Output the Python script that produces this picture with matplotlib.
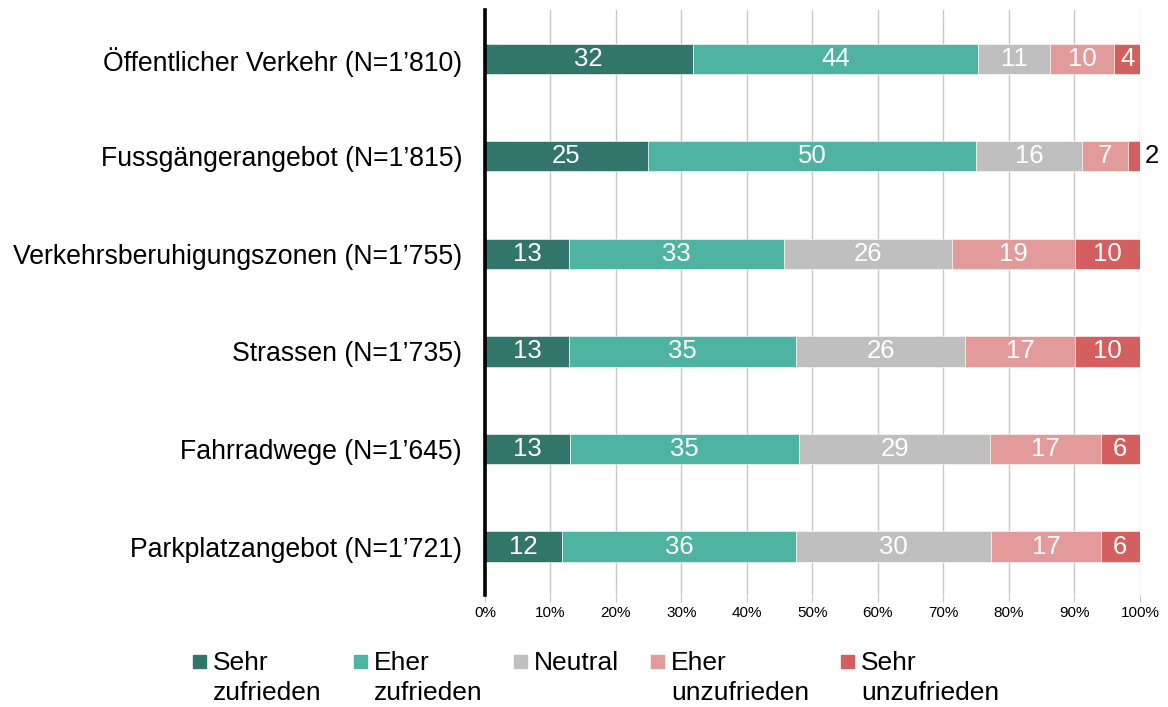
import matplotlib.pyplot as plt
from matplotlib.patches import Rectangle

categories = [
    "Öffentlicher Verkehr (N=1’810)",
    "Fussgängerangebot (N=1’815)",
    "Verkehrsberuhigungszonen (N=1’755)",
    "Strassen (N=1’735)",
    "Fahrradwege (N=1’645)",
    "Parkplatzangebot (N=1’721)",
]
levels = ["Sehr\nzufrieden", "Eher\nzufrieden", "Neutral", "Eher\nunzufrieden", "Sehr\nunzufrieden"]
sehr_zufrieden = [31.7, 24.9, 12.9, 12.9, 13.0, 11.8]
eher_zufrieden = [43.6, 50.1, 32.7, 34.6, 35.0, 35.7]
neutral = [11.0, 16.1, 25.7, 25.8, 29.1, 29.8]
eher_unzufrieden = [9.8, 7.0, 18.8, 16.8, 16.9, 16.7]
sehr_unzufrieden = [3.9, 1.9, 9.9, 9.9, 6.0, 6.0]
series = [sehr_zufrieden, eher_zufrieden, neutral, eher_unzufrieden, sehr_unzufrieden]
colors = ["#32756A", "#4FB3A1", "#BFBFBF", "#E39A9A", "#D35F5F"]

plt.rcParams["font.family"] = ["Liberation Sans", "DejaVu Sans"]

fig = plt.figure(figsize=(11.68, 7.07), dpi=100)
ax = fig.add_axes([0.4152, 0.158, 0.5608, 0.828])

ys = list(range(len(categories)))
left = [0.0] * len(categories)
for vals, col in zip(series, colors):
    ax.barh(ys, vals, left=left, height=0.31, color=col, edgecolor="white",
            linewidth=0.4, zorder=3)
    for y, l, v in zip(ys, left, vals):
        txt = f"{v:.0f}"
        if v < 3:
            # too thin for a label inside, put it just right of the bar
            ax.text(100.8, y, txt, ha="left", va="center", color="black", fontsize=18.5)
        else:
            ax.text(l + v / 2, y, txt, ha="center", va="center", color="white",
                    fontsize=18.5, zorder=4)
    left = [a + b for a, b in zip(left, vals)]

ax.set_xlim(0, 100)
ax.set_ylim(5.5, -0.5)
ax.set_yticks(ys)
ax.set_yticklabels(categories, fontsize=19.2)
ax.set_xticks(range(0, 101, 10))
ax.set_xticklabels([f"{t}%" for t in range(0, 101, 10)], fontsize=11)
ax.tick_params(axis="y", length=0, pad=16.5)
ax.tick_params(axis="x", length=5, color="#C8C8C8", pad=3)
ax.grid(axis="x", color="#C8C8C8", linewidth=1.0, zorder=0)
for s in ("top", "right", "bottom"):
    ax.spines[s].set_visible(False)
ax.spines["left"].set_linewidth(2.6)
ax.spines["left"].set_color("black")
ax.spines["left"].set_zorder(5)

# legend, laid out by hand so the square sits on the first text line
leg_x = [0.1652, 0.3031, 0.4401, 0.5574, 0.7200]
for x, lab, col in zip(leg_x, levels, colors):
    fig.patches.append(Rectangle((x, 0.0552), 0.0111, 0.0184,
                                 transform=fig.transFigure, color=col))
    fig.text(x + 0.0171, 0.0795, lab, ha="left", va="top", fontsize=19,
             linespacing=1.33)

fig.savefig("out.png", dpi=100)
